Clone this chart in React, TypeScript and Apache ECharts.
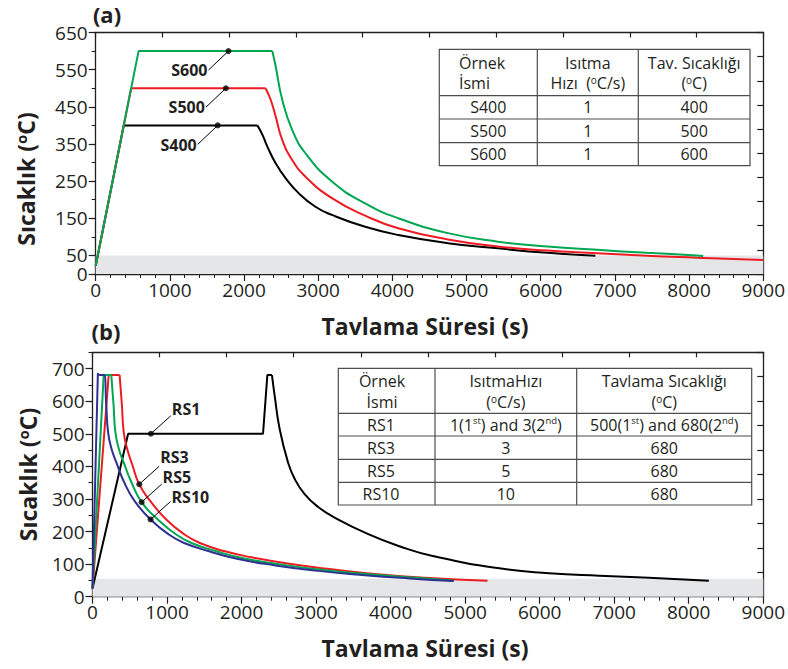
import { useEffect, useRef } from "react";
import * as echarts from "echarts";

type Pt = [number, number];

// ---------- (a) anneals at 400 / 500 / 600 °C, heated at 1 °C/s ----------
const s400: Pt[] = [[0, 22], [378, 400], [2180, 400], [2247, 375], [2314, 343], [2426, 298], [2560, 258], [2739, 217], [2962, 181], [3185, 159], [3633, 127], [4079, 105], [4749, 83], [5420, 69], [6090, 57], [6737, 49]];
const s500: Pt[] = [[0, 22], [478, 500], [2290, 500], [2359, 469], [2426, 424], [2515, 361], [2649, 307], [2828, 262], [3185, 204], [3633, 157], [4079, 123], [4749, 93], [5420, 74], [6090, 63], [6760, 56], [7430, 49], [8100, 44], [9000, 38]];
const s600: Pt[] = [[0, 22], [578, 600], [2381, 600], [2426, 559], [2515, 469], [2649, 388], [2828, 325], [3185, 249], [3633, 190], [4079, 150], [4749, 110], [5420, 87], [6090, 74], [6760, 65], [7430, 57], [8100, 50], [8190, 48.5]];

// ---------- (b) anneals at 680 °C with different heating rates ----------
const rs1: Pt[] = [[0, 25], [478, 500], [2288, 500], [2346, 680], [2408, 680], [2444, 617], [2511, 515], [2622, 413], [2712, 362], [2846, 315], [3024, 276], [3248, 243], [3700, 192], [4118, 155], [4564, 125], [5458, 87], [6127, 72], [6797, 64], [7466, 58], [8270, 49]];
const rs3: Pt[] = [[0, 25], [217, 680], [364, 680], [394, 590], [419, 505], [464, 455], [534, 405], [627, 345], [771, 295], [989, 237], [1239, 190], [1449, 164], [1764, 140], [2132, 121], [2664, 100], [3204, 84], [3864, 68], [4464, 58], [5300, 49]];
const rs5: Pt[] = [[0, 25], [150, 680], [252, 680], [282, 590], [307, 505], [352, 455], [422, 410], [515, 355], [659, 290], [877, 237], [1127, 190], [1337, 164], [1652, 140], [2020, 118], [2552, 98], [3092, 82], [3752, 68], [4352, 58], [4850, 49]];
const rs10: Pt[] = [[0, 25], [72, 686], [88, 680], [154, 680], [184, 590], [209, 505], [254, 455], [324, 410], [417, 355], [561, 295], [779, 237], [1029, 190], [1239, 164], [1554, 140], [1922, 117], [2454, 96], [2994, 80], [3654, 66], [4254, 56], [4845, 48]];

// Room-temperature bands
const bandA = [0, 50];
const bandB = [0, 55];

// Axis ranges and labelled ticks
const xMax = 9000;
const yMaxA = 650;
const yMaxB = 750;
const yLabelsA = [0, 50, 150, 250, 350, 450, 550, 650];
const yLabelsB = [0, 100, 200, 300, 400, 500, 600, 700];

// Curve names and the time at which each name tag points to its curve
const tagsA = [
  { name: "S600", at: 1790 },
  { name: "S500", at: 1755 },
  { name: "S400", at: 1645 },
];
const tagsB = [
  { name: "RS1", at: 783 },
  { name: "RS3", at: 627 },
  { name: "RS5", at: 659 },
  { name: "RS10", at: 779 },
];
// vertical nudge of each tag's text relative to its leader end (px)
const tagNudgeA = [0, 0, 1];
const tagNudgeB = [-7, -9.5, -7.5, -4];

// Inset tables
const tableAHead = [["Örnek", "İsmi"], ["Isıtma", "Hızı  ({o|o}C/s)"], ["Tav. Sıcaklığı", "({o|o}C)"]];
const tableARows = [["S400", "1", "400"], ["S500", "1", "500"], ["S600", "1", "600"]];
const tableBHead = [["Örnek", "İsmi"], ["IsıtmaHızı", "({o|o}C/s)"], ["Tavlama Sıcaklığı", "({o|o}C)"]];
const tableBRows = [
  ["RS1", "1(1{s|st}) and 3(2{s|nd})", "500(1{s|st}) and 680(2{s|nd})"],
  ["RS3", "3", "680"],
  ["RS5", "5", "680"],
  ["RS10", "10", "680"],
];

const INK = "#231f20";
const FONT = "'Open Sans', 'Noto Sans', sans-serif";
const RED = "#ed1c24";
const GREEN = "#00a651";
const BLUE = "#2e3192";
const BLACK = "#000000";
const BAND = "#e5e6e7";

const seriesA = [
  { name: "S400", data: s400, color: BLACK },
  { name: "S500", data: s500, color: RED },
  { name: "S600", data: s600, color: GREEN },
];
const seriesB = [
  { name: "RS1", data: rs1, color: BLACK },
  { name: "RS3", data: rs3, color: RED },
  { name: "RS5", data: rs5, color: GREEN },
  { name: "RS10", data: rs10, color: BLUE },
];

function valueAt(data: Pt[], t: number): number {
  for (let i = 1; i < data.length; i++) {
    const [x0, y0] = data[i - 1];
    const [x1, y1] = data[i];
    if (t >= x0 && t <= x1) return y0 + ((y1 - y0) * (t - x0)) / (x1 - x0);
  }
  return data[data.length - 1][1];
}

// Index of the last point at the peak temperature: heating + soak before it, cooling after it
function coolingStart(data: Pt[]): number {
  let k = 0;
  for (let i = 0; i < data.length; i++) {
    if (data[i][1] >= data[k][1] - 0.5) k = i;
  }
  return k;
}

const GRID_A = { left: 95.7, top: 32.5, width: 671.8, height: 241.5 };
const GRID_B = { left: 92.5, top: 352.3, width: 673, height: 244.4 };

function bottomX(gridIndex: number) {
  return {
    type: "value", gridIndex, position: "bottom", min: 0, max: xMax, interval: 1000,
    axisLine: { show: true, onZero: false, lineStyle: { color: INK, width: 1.3 } },
    axisTick: { show: true, inside: false, length: 7, lineStyle: { color: INK, width: 1.2 } },
    minorTick: { show: true, splitNumber: 5, length: 4, lineStyle: { color: INK, width: 1 } },
    axisLabel: { color: INK, fontFamily: FONT, fontSize: 19, margin: 6, formatter: (v: number) => String(v) },
    splitLine: { show: false },
  };
}
function topX(gridIndex: number) {
  return {
    type: "value", gridIndex, position: "top", min: 0, max: xMax, interval: 900,
    axisLine: { show: true, onZero: false, lineStyle: { color: INK, width: 1.3 } },
    axisTick: { show: true, inside: true, length: 5, lineStyle: { color: INK, width: 1.2 } },
    axisLabel: { show: false },
    splitLine: { show: false },
  };
}
function leftY(gridIndex: number, max: number) {
  return {
    type: "value", gridIndex, position: "left", min: 0, max, interval: 50,
    axisLine: { show: true, onZero: false, lineStyle: { color: INK, width: 1.3 } },
    axisTick: { show: true, inside: false, length: 4, lineStyle: { color: INK, width: 1.1 } },
    axisLabel: { show: false },
    splitLine: { show: false },
  };
}
// Labelled (longer) ticks; split over two axes so close labels are never dropped
function leftYLabels(gridIndex: number, max: number, labels: number[]) {
  return [0, 1].map((parity) => {
    const vals = labels.filter((_, i) => i % 2 === parity);
    return {
      type: "value", gridIndex, position: "left", min: 0, max, interval: 50,
      axisLine: { show: false },
      axisTick: { show: true, inside: false, length: 7, customValues: vals, lineStyle: { color: INK, width: 1.2 } },
      axisLabel: {
        color: INK, fontFamily: FONT, fontSize: 19, margin: 8, customValues: vals, lineHeight: 15,
        showMinLabel: true, showMaxLabel: true, hideOverlap: false,
        formatter: (v: number) => (vals.includes(v) ? String(v) : ""),
      },
      splitLine: { show: false },
    };
  });
}
function rightY(gridIndex: number, max: number) {
  return {
    type: "value", gridIndex, position: "right", min: 0, max, interval: max / 10,
    axisLine: { show: true, onZero: false, lineStyle: { color: INK, width: 1.3 } },
    axisTick: { show: true, inside: true, length: 6, lineStyle: { color: INK, width: 1.2 } },
    axisLabel: { show: false },
    splitLine: { show: false },
  };
}

function buildOption() {
  const lines = (list: typeof seriesA, xAxisIndex: number, yAxisIndex: number) =>
    list.flatMap((s) => {
      const k = coolingStart(s.data);
      const common = {
        type: "line", xAxisIndex, yAxisIndex, showSymbol: false, symbol: "none", z: 3,
        lineStyle: { color: s.color, width: 2 }, itemStyle: { color: s.color },
      };
      return [
        { ...common, name: s.name, data: s.data.slice(0, k + 1) },
        { ...common, name: s.name + " soğuma", data: s.data.slice(k), smooth: 0.5 },
      ];
    });
  const band = (range: number[], xAxisIndex: number, yAxisIndex: number) => ({
    type: "line", data: [], xAxisIndex, yAxisIndex, z: 1, silent: true,
    markArea: { silent: true, itemStyle: { color: BAND }, data: [[{ yAxis: range[0] }, { yAxis: range[1] }]] },
  });
  const dots = (list: typeof seriesA, tags: typeof tagsA, xAxisIndex: number, yAxisIndex: number) => ({
    type: "scatter", xAxisIndex, yAxisIndex, z: 5, symbolSize: 6, itemStyle: { color: BLACK },
    data: tags.map((t) => {
      const s = list.find((d) => d.name === t.name)!;
      return [t.at, valueAt(s.data, t.at)];
    }),
  });
  // y axes: 0 main(a), 1-2 labels(a), 3 right(a), 4 main(b), 5-6 labels(b), 7 right(b)
  return {
    animation: false,
    backgroundColor: "#ffffff",
    grid: [GRID_A, GRID_B],
    xAxis: [bottomX(0), topX(0), bottomX(1), topX(1)],
    yAxis: [
      leftY(0, yMaxA), ...leftYLabels(0, yMaxA, yLabelsA), rightY(0, yMaxA),
      leftY(1, yMaxB), ...leftYLabels(1, yMaxB, yLabelsB), rightY(1, yMaxB),
    ],
    series: [
      band(bandA, 0, 0),
      ...lines(seriesA, 0, 0),
      dots(seriesA, tagsA, 0, 0),
      band(bandB, 2, 4),
      ...lines(seriesB, 2, 4),
      dots(seriesB, tagsB, 2, 4),
    ],
  };
}

const supRich = {
  o: { fontFamily: FONT, fontSize: 10, verticalAlign: "top", lineHeight: 10, fill: INK, color: INK },
  s: { fontFamily: FONT, fontSize: 9.5, verticalAlign: "top", lineHeight: 10, fill: INK, color: INK },
};
const titleRich = {
  o: { fontFamily: FONT, fontSize: 15, fontWeight: "bold", verticalAlign: "top", lineHeight: 16, fill: INK, color: INK },
};

function text(x: number, y: number, str: string, size: number, opts: any = {}) {
  return {
    type: "text", x, y, rotation: opts.rotation || 0, z: 10,
    style: {
      text: str, fill: INK, fontFamily: FONT, fontSize: size, fontWeight: opts.bold ? "bold" : "normal",
      align: opts.align || "center", verticalAlign: "middle", lineHeight: opts.lineHeight || size + 2,
      rich: opts.rich,
    },
  };
}

function table(xs: number[], ys: number[], head: string[][], rows: string[][], headLines: number[], headAlign: any[], rowCenters: number[]) {
  const els: any[] = [];
  const stroke = { stroke: "#4d4d4f", lineWidth: 1.2 };
  els.push({ type: "rect", z: 9, shape: { x: xs[0], y: ys[0], width: xs[xs.length - 1] - xs[0], height: ys[ys.length - 1] - ys[0] }, style: { fill: "#ffffff", ...stroke } });
  for (let i = 1; i < xs.length - 1; i++) els.push({ type: "line", z: 9, shape: { x1: xs[i], y1: ys[0], x2: xs[i], y2: ys[ys.length - 1] }, style: stroke });
  for (let j = 1; j < ys.length - 1; j++) els.push({ type: "line", z: 9, shape: { x1: xs[0], y1: ys[j], x2: xs[xs.length - 1], y2: ys[j] }, style: stroke });
  head.forEach((cell, c) => {
    cell.forEach((line, k) => {
      const a = headAlign[c];
      els.push(text(a.x, headLines[k], line, 16, { align: a.align, rich: supRich, lineHeight: 17 }));
    });
  });
  rows.forEach((row, r) => {
    const cy = (ys[r + 1] + ys[r + 2]) / 2;
    row.forEach((cell, c) => {
      els.push(text(rowCenters[c], cy, cell, 16, { rich: supRich, lineHeight: 18 }));
    });
  });
  return els;
}

function buildGraphics(chart: any) {
  const els: any[] = [];
  els.push(text(107, 14, "(a)", 22, { bold: true }));
  els.push(text(106, 331, "(b)", 22, { bold: true }));
  els.push(text(26, 179, "Sıcaklık ({o|o}C)", 23, { bold: true, rotation: Math.PI / 2, rich: titleRich, lineHeight: 26 }));
  els.push(text(28, 474.5, "Sıcaklık ({o|o}C)", 23, { bold: true, rotation: Math.PI / 2, rich: titleRich, lineHeight: 26 }));
  els.push(text(425, 326, "Tavlama Süresi (s)", 23, { bold: true }));
  els.push(text(425, 648, "Tavlama Süresi (s)", 23, { bold: true }));

  const xa = [439.3, 537.3, 638.3, 750];
  const ya = [49.3, 95.7, 119, 142.7, 165.7];
  els.push(...table(xa, ya, tableAHead, tableARows, [63, 83],
    [{ x: 459, align: "left" }, { x: (xa[1] + xa[2]) / 2, align: "center" }, { x: (xa[2] + xa[3]) / 2, align: "center" }],
    [(xa[0] + xa[1]) / 2, (xa[1] + xa[2]) / 2, (xa[2] + xa[3]) / 2]));

  const xb = [338.3, 435, 576.7, 751.7];
  const yb = [368.3, 413.3, 436, 459.3, 482.3, 505];
  els.push(...table(xb, yb, tableBHead, tableBRows, [381, 402],
    [{ x: 382, align: "center" }, { x: (xb[1] + xb[2]) / 2, align: "center" }, { x: (xb[2] + xb[3]) / 2, align: "center" }],
    [381, (xb[1] + xb[2]) / 2, (xb[2] + xb[3]) / 2]));

  // Name tags with leader lines, anchored to the curves through the axes
  const tag = (list: typeof seriesA, tags: typeof tagsA, nudge: number[], xi: number, yi: number, dx: number, dy: number, left: boolean) => {
    tags.forEach((t, i) => {
      const s = list.find((d) => d.name === t.name)!;
      const [px, py] = chart.convertToPixel({ xAxisIndex: xi, yAxisIndex: yi }, [t.at, valueAt(s.data, t.at)]);
      const ex = px + dx;
      const ey = py + dy;
      els.push({ type: "line", z: 8, shape: { x1: px, y1: py, x2: ex, y2: ey }, style: { stroke: BLACK, lineWidth: 1 } });
      els.push(text(left ? ex + 1 : ex - 1, ey + nudge[i], t.name, 16, { bold: true, align: left ? "left" : "right", lineHeight: 15 }));
    });
  };
  tag(seriesA, tagsA, tagNudgeA, 0, 0, -20, 19, false);
  tag(seriesB, tagsB, tagNudgeB, 2, 4, 20, -18, true);
  return els;
}

export default function App() {
  const ref = useRef<HTMLDivElement>(null);
  useEffect(() => {
    const chart = echarts.init(ref.current!, undefined, { renderer: "svg", width: 788, height: 669 });
    chart.setOption(buildOption() as any);
    chart.setOption({ graphic: { elements: buildGraphics(chart) } } as any);
    return () => chart.dispose();
  }, []);
  return <div ref={ref} style={{ position: "absolute", left: 0, top: 0, width: 788, height: 669 }} />;
}
